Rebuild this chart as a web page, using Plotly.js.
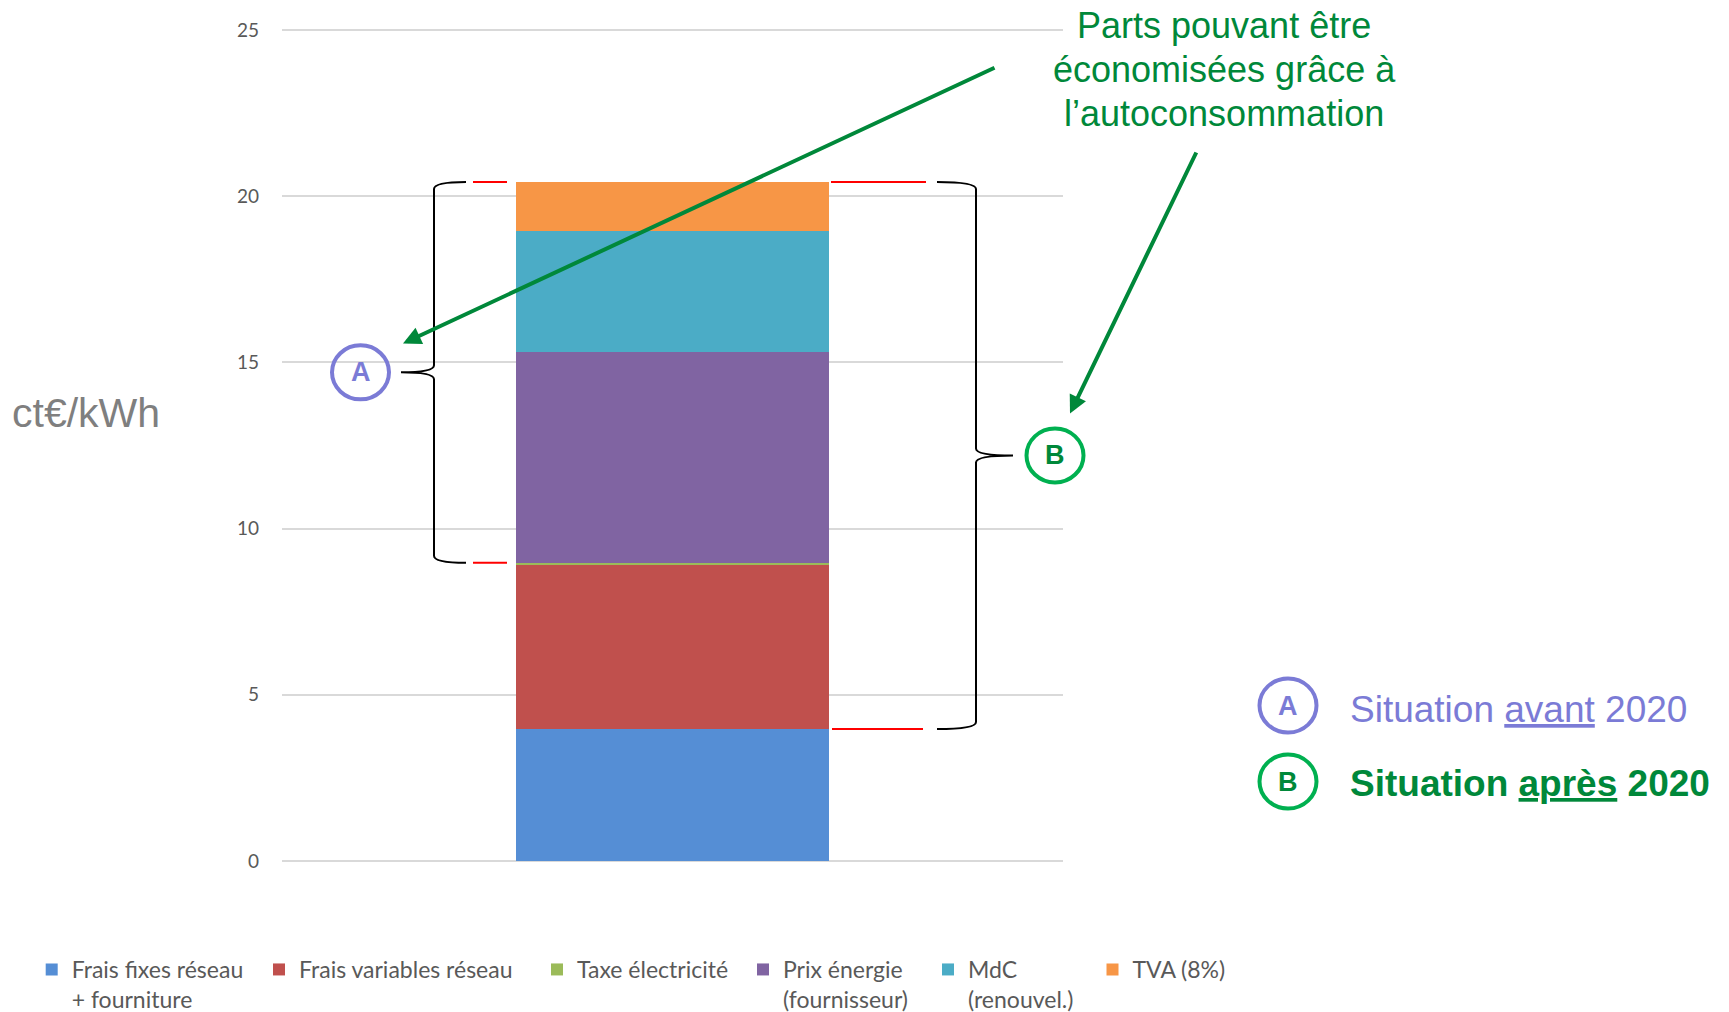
<!DOCTYPE html>
<html lang="fr">
<head>
<meta charset="utf-8">
<script src="https://cdn.plot.ly/plotly-3.0.1.min.js"></script>
<style>
  html, body { margin: 0; padding: 0; background: #ffffff; }
  #chart { width: 1729px; height: 1012px; }
</style>
</head>
<body>
<div id="chart"></div>
<script>
// Composition du prix du kWh d'électricité (ct€/kWh), barre empilée unique
const categories = ['Prix du kWh'];
const seriesNames = [
  'Frais fixes réseau<br>+ fourniture',
  'Frais variables réseau',
  'Taxe électricité',
  'Prix énergie<br>(fournisseur)',
  'MdC<br>(renouvel.)',
  'TVA (8%)'
];
const seriesValues = [3.97, 4.94, 0.06, 6.35, 3.62, 1.49];
const yTickValues = [0, 5, 10, 15, 20, 25];
const unitLabel = 'ct€/kWh';
const calloutLines = ['Parts pouvant être', 'économisées grâce à', 'l’autoconsommation'];
const situationKeys = ['A', 'B'];
const situationLabels = ['Situation <u>avant</u> 2020', '<b>Situation <u>après</u> 2020</b>'];

// ---- styles ----
const barColors = ['#558ED5', '#C0504D', '#9BBB59', '#8064A2', '#4BACC6', '#F79646'];
const GREEN = '#00883A';
const GREEN_RING = '#00B050';
const LAVENDER = '#7B7BD6';
const GREY_TEXT = '#595959';
const SANS = 'Liberation Sans, Arial, sans-serif';
const TICK_FONT = 'Lato, Carlito, Calibri, sans-serif';

// ---- frame geometry (pixels) ----
// the value range is padded a hair so the 0 and 25 grid lines are kept
const W = 1729, H = 1012;
const M = { l: 282, r: 666, t: 28, b: 149, autoexpand: false };
const yLo = -0.06, yHi = yTickValues[yTickValues.length - 1] + 0.06;
const plotW = W - M.l - M.r;
const plotH = H - M.t - M.b;
const px = x => (x - M.l) / plotW;             // pixel x -> paper x
const py = y => (H - M.b - y) / plotH;         // pixel y -> paper y
const pxPerUnit = plotH / (yHi - yLo);

// cumulative tops of the stacked segments
const cum = [];
seriesValues.reduce((acc, v, i) => (cum[i] = acc + v), 0);
const total = cum[cum.length - 1];

// ---- traces: one stacked bar per component, each with its own legend ----
const legendIds = ['legend', 'legend2', 'legend3', 'legend4', 'legend5', 'legend6'];
const traces = seriesNames.map((name, i) => ({
  type: 'bar',
  x: categories,
  y: [seriesValues[i]],
  name: name,
  legend: legendIds[i],
  marker: { color: barColors[i], line: { width: 0 } },
  hoverinfo: 'name+y'
}));

// ---- curly braces drawn as paths (x in paper, y in data units) ----
function bracePath(xEnd, xSpine, xTip, yTop, yBot) {
  const r = 7 / pxPerUnit;
  const ym = (yTop + yBot) / 2;
  const e = px(xEnd), s = px(xSpine), t = px(xTip);
  return `M${e},${yTop} Q${s},${yTop} ${s},${yTop - r} L${s},${ym + r} ` +
         `Q${s},${ym} ${t},${ym} Q${s},${ym} ${s},${ym - r} L${s},${yBot + r} ` +
         `Q${s},${yBot} ${e},${yBot}`;
}
const braceA = { top: total, bottom: cum[2] };
const braceB = { top: total, bottom: cum[0] };

const shapes = [
  { type: 'path', xref: 'paper', yref: 'y', path: bracePath(466, 434, 401, braceA.top, braceA.bottom),
    line: { color: '#000000', width: 2 } },
  { type: 'path', xref: 'paper', yref: 'y', path: bracePath(937, 976, 1013, braceB.top, braceB.bottom),
    line: { color: '#000000', width: 2 } },
  // red level markers
  { type: 'line', xref: 'paper', yref: 'y', x0: px(473), x1: px(507), y0: braceA.top, y1: braceA.top,
    line: { color: '#FF0000', width: 2 } },
  { type: 'line', xref: 'paper', yref: 'y', x0: px(473), x1: px(507), y0: braceA.bottom, y1: braceA.bottom,
    line: { color: '#FF0000', width: 2 } },
  { type: 'line', xref: 'paper', yref: 'y', x0: px(831), x1: px(926), y0: braceB.top, y1: braceB.top,
    line: { color: '#FF0000', width: 2 } },
  { type: 'line', xref: 'paper', yref: 'y', x0: px(832), x1: px(923), y0: braceB.bottom, y1: braceB.bottom,
    line: { color: '#FF0000', width: 2 } },
  // A / B rings next to the braces
  { type: 'circle', xref: 'paper', yref: 'y', xsizemode: 'pixel', ysizemode: 'pixel',
    xanchor: px(360.5), yanchor: (braceA.top + braceA.bottom) / 2,
    x0: -28.5, x1: 28.5, y0: -27, y1: 27, line: { color: LAVENDER, width: 4 } },
  { type: 'circle', xref: 'paper', yref: 'y', xsizemode: 'pixel', ysizemode: 'pixel',
    xanchor: px(1055), yanchor: (braceB.top + braceB.bottom) / 2,
    x0: -28.5, x1: 28.5, y0: -27, y1: 27, line: { color: GREEN_RING, width: 4 } },
  // key rings
  { type: 'circle', xref: 'paper', yref: 'paper', x0: px(1259.5), x1: px(1316.5), y0: py(732.5), y1: py(678.5),
    line: { color: LAVENDER, width: 4 } },
  { type: 'circle', xref: 'paper', yref: 'paper', x0: px(1259.5), x1: px(1316.5), y0: py(808.5), y1: py(754.5),
    line: { color: GREEN_RING, width: 4 } }
];

const calloutCentres = [25.5, 69.5, 113.5];
const annotations = [
  // unit label on the left
  { xref: 'paper', yref: 'paper', x: px(10), y: py(413), xanchor: 'left', yanchor: 'middle',
    text: unitLabel, showarrow: false, font: { family: SANS, size: 41, color: '#7F7F7F' } },
  // arrows from the callout
  { xref: 'paper', yref: 'paper', x: px(403), y: py(343.5), ax: 593, ay: -276.5, text: '',
    showarrow: true, arrowhead: 2, arrowsize: 0.9, arrowwidth: 4, arrowcolor: GREEN, standoff: 0 },
  { xref: 'paper', yref: 'paper', x: px(1070), y: py(413.5), ax: 127, ay: -262.5, text: '',
    showarrow: true, arrowhead: 2, arrowsize: 0.9, arrowwidth: 4, arrowcolor: GREEN, standoff: 0 },
  // letters in the rings next to the braces
  { xref: 'paper', yref: 'y', x: px(360.5), y: (braceA.top + braceA.bottom) / 2, text: '<b>' + situationKeys[0] + '</b>',
    showarrow: false, xanchor: 'center', yanchor: 'middle', font: { family: SANS, size: 27, color: LAVENDER } },
  { xref: 'paper', yref: 'y', x: px(1055), y: (braceB.top + braceB.bottom) / 2, text: '<b>' + situationKeys[1] + '</b>',
    showarrow: false, xanchor: 'center', yanchor: 'middle', font: { family: SANS, size: 27, color: GREEN } },
  // key
  { xref: 'paper', yref: 'paper', x: px(1288), y: py(705.5), text: '<b>' + situationKeys[0] + '</b>',
    showarrow: false, xanchor: 'center', yanchor: 'middle', font: { family: SANS, size: 27, color: LAVENDER } },
  { xref: 'paper', yref: 'paper', x: px(1288), y: py(781.5), text: '<b>' + situationKeys[1] + '</b>',
    showarrow: false, xanchor: 'center', yanchor: 'middle', font: { family: SANS, size: 27, color: GREEN } },
  { xref: 'paper', yref: 'paper', x: px(1348), y: py(709), text: situationLabels[0],
    showarrow: false, xanchor: 'left', yanchor: 'middle', font: { family: SANS, size: 37, color: LAVENDER } },
  { xref: 'paper', yref: 'paper', x: px(1348), y: py(783), text: situationLabels[1],
    showarrow: false, xanchor: 'left', yanchor: 'middle', font: { family: SANS, size: 37, color: GREEN } }
];
// green callout, one line per annotation
calloutLines.forEach((line, i) => {
  annotations.push({ xref: 'paper', yref: 'paper', x: px(1224), y: py(calloutCentres[i]),
    xanchor: 'center', yanchor: 'middle', text: line, showarrow: false,
    font: { family: SANS, size: 36, color: GREEN } });
});

// one legend per series so each entry sits in its own column
const legendTextStart = [70.7, 298, 576, 782, 967, 1131.5];
const legendBase = {
  orientation: 'v', xanchor: 'left', yanchor: 'top', y: py(948), valign: 'top',
  bgcolor: 'rgba(0,0,0,0)', borderwidth: 0, itemclick: false, itemdoubleclick: false,
  font: { family: TICK_FONT, size: 23, color: GREY_TEXT }
};

const layout = {
  width: W, height: H,
  margin: M,
  paper_bgcolor: '#ffffff', plot_bgcolor: '#ffffff',
  barmode: 'stack', bargap: 0.6,
  showlegend: true,
  xaxis: { type: 'category', showticklabels: false, ticks: '', showgrid: false, zeroline: false,
           showline: false, fixedrange: true },
  yaxis: { range: [yLo, yHi], tickvals: yTickValues, ticks: '', ticklabelstandoff: 22,
           showgrid: true, gridcolor: '#D9D9D9', gridwidth: 2, zeroline: false, showline: false,
           tickfont: { family: TICK_FONT, size: 19, color: GREY_TEXT }, fixedrange: true },
  shapes: shapes,
  annotations: annotations
};
legendIds.forEach((id, i) => {
  layout[id] = Object.assign({}, legendBase, { x: px(legendTextStart[i] - 39) });
});

Plotly.newPlot('chart', traces, layout, { displayModeBar: false, responsive: false });
</script>
</body>
</html>
